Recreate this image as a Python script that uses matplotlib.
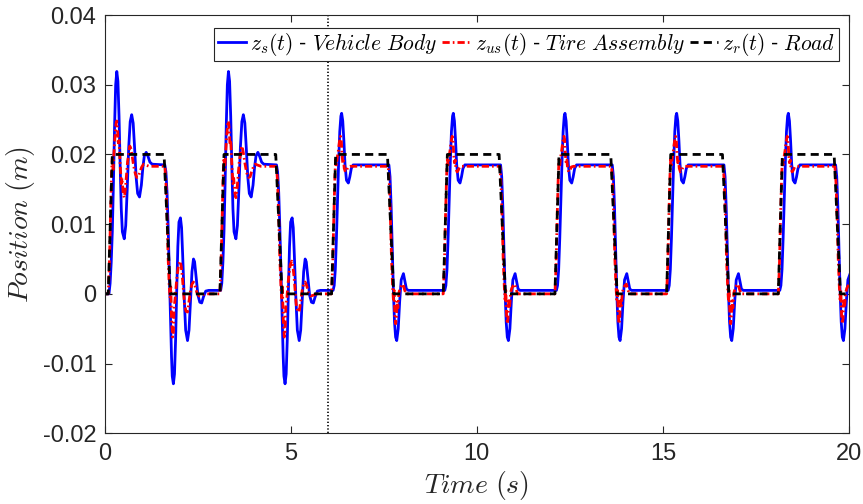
import numpy as np
import matplotlib
matplotlib.use("Agg")
import matplotlib.pyplot as plt
from matplotlib.ticker import FuncFormatter, FixedLocator

# ---------------------------------------------------------------------------
# Quarter-car response to a repeated road step (one 3 s cycle, relative time)
# ---------------------------------------------------------------------------
CYCLE_PASSIVE = [0.0, 3.0]                 # cycles before the controller is switched on
CYCLE_ACTIVE = [6.0, 9.0, 12.0, 15.0, 18.0]  # cycles with the controller active
SWITCH_TIME = 6.0
T_END = 20.0

# road profile z_r over one cycle
road_tau = [0.00, 0.10, 0.21, 1.60, 1.77, 3.00]
road_val = [0.000, 0.000, 0.020, 0.020, 0.000, 0.000]

# vehicle body z_s, passive suspension
zs_p_tau = [0.00, 0.12, 0.15, 0.18, 0.21, 0.24, 0.27, 0.30, 0.33, 0.36,
            0.39, 0.42, 0.45, 0.48, 0.53, 0.57, 0.61, 0.65, 0.69, 0.73,
            0.77, 0.81, 0.85, 0.89, 0.94, 0.99, 1.03, 1.07, 1.12, 1.17,
            1.22, 1.28, 1.62, 1.65, 1.68, 1.71, 1.74, 1.77, 1.80, 1.82,
            1.85, 1.88, 1.91, 1.94, 1.97, 2.00, 2.04, 2.07, 2.10, 2.14,
            2.18, 2.23, 2.27, 2.31, 2.35, 2.39, 2.42, 2.46, 2.51, 2.56,
            2.61, 2.66, 2.72, 2.80, 3.00]
zs_p_val = [0.0005, 0.0005, 0.0015, 0.0045, 0.0090, 0.0160, 0.0240, 0.0300, 0.0319, 0.0305,
            0.0255, 0.0185, 0.0122, 0.0089, 0.0079, 0.0098, 0.0150, 0.0210, 0.0247, 0.0257,
            0.0245, 0.0208, 0.0167, 0.0144, 0.0139, 0.0156, 0.0181, 0.0198, 0.0203, 0.0197,
            0.0189, 0.0186, 0.0185, 0.0175, 0.0145, 0.0095, 0.0035, -0.0030, -0.0090, -0.0118,
            -0.0129, -0.0115, -0.0065, 0.0005, 0.0068, 0.0103, 0.0109, 0.0095, 0.0055, -0.0005,
            -0.0052, -0.0067, -0.0052, -0.0010, 0.0032, 0.0050, 0.0046, 0.0025, -0.0002, -0.0012,
            -0.0013, -0.0004, 0.0004, 0.0005, 0.0005]

# tire assembly z_us, passive suspension
zus_p_tau = [0.00, 0.10, 0.13, 0.16, 0.19, 0.21, 0.23, 0.25, 0.28, 0.31,
             0.33, 0.35, 0.37, 0.39, 0.42, 0.45, 0.47, 0.50, 0.53, 0.56,
             0.59, 0.62, 0.65, 0.68, 0.71, 0.74, 0.77, 0.80, 0.83, 0.87,
             0.91, 0.95, 1.00, 1.05, 1.10, 1.20, 1.62, 1.65, 1.68, 1.71,
             1.74, 1.76, 1.78, 1.80, 1.83, 1.85, 1.87, 1.90, 1.93, 1.96,
             1.99, 2.03, 2.06, 2.09, 2.12, 2.15, 2.19, 2.23, 2.27, 2.31,
             2.35, 2.39, 2.43, 2.48, 2.54, 2.61, 2.70, 3.00]
zus_p_val = [0.0000, 0.0000, 0.0040, 0.0110, 0.0175, 0.0195, 0.0178, 0.0198, 0.0225, 0.0244,
             0.0248, 0.0236, 0.0214, 0.0220, 0.0186, 0.0158, 0.0166, 0.0145, 0.0138, 0.0150,
             0.0170, 0.0190, 0.0200, 0.0212, 0.0208, 0.0199, 0.0188, 0.0179, 0.0172, 0.0167,
             0.0168, 0.0175, 0.0182, 0.0186, 0.0185, 0.0183, 0.0183, 0.0160, 0.0110, 0.0050,
             0.0010, -0.0006, 0.0010, -0.0035, -0.0062, -0.0055, -0.0020, -0.0005, 0.0015, 0.0030,
             0.0042, 0.0047, 0.0040, 0.0025, 0.0005, -0.0015, -0.0025, -0.0026, -0.0010, 0.0005,
             0.0014, 0.0017, 0.0012, 0.0002, -0.0003, -0.0002, 0.0000, 0.0000]

# vehicle body z_s, controlled suspension
zs_a_tau = [0.00, 0.14, 0.17, 0.20, 0.23, 0.26, 0.29, 0.32, 0.35, 0.37,
            0.40, 0.43, 0.46, 0.50, 0.55, 0.59, 0.63, 0.68, 1.64, 1.67,
            1.70, 1.73, 1.76, 1.79, 1.82, 1.85, 1.89, 1.93, 1.97, 2.03,
            2.07, 2.11, 2.16, 3.00]
zs_a_val = [0.0005, 0.0005, 0.0012, 0.0035, 0.0080, 0.0135, 0.0190, 0.0233, 0.0255, 0.0259,
            0.0248, 0.0220, 0.0186, 0.0163, 0.0159, 0.0168, 0.0180, 0.0185, 0.0185, 0.0168,
            0.0125, 0.0065, 0.0005, -0.0040, -0.0062, -0.0067, -0.0050, -0.0010, 0.0020, 0.0029,
            0.0018, 0.0007, 0.0005, 0.0005]

# tire assembly z_us, controlled suspension
zus_a_tau = [0.00, 0.10, 0.13, 0.16, 0.19, 0.21, 0.23, 0.25, 0.28, 0.31,
             0.34, 0.36, 0.38, 0.40, 0.42, 0.44, 0.47, 0.50, 0.54, 0.60,
             1.62, 1.65, 1.68, 1.71, 1.74, 1.76, 1.78, 1.80, 1.82, 1.84,
             1.86, 1.88, 1.91, 1.94, 1.98, 2.02, 2.06, 2.10, 3.00]
zus_a_val = [0.0000, 0.0000, 0.0040, 0.0110, 0.0170, 0.0193, 0.0185, 0.0195, 0.0205, 0.0218,
             0.0226, 0.0222, 0.0200, 0.0188, 0.0192, 0.0180, 0.0175, 0.0177, 0.0182, 0.0183,
             0.0183, 0.0160, 0.0110, 0.0050, 0.0010, -0.0008, 0.0005, -0.0030, -0.0043, -0.0035,
             -0.0010, -0.0020, 0.0002, 0.0008, 0.0012, 0.0014, 0.0006, 0.0000, 0.0000]

ZS_INITIAL = 0.0   # body starts at rest on the road


def repeat_cycles(starts, tau, val):
    """Place one cycle of samples at every cycle start time."""
    t = np.concatenate([s + np.asarray(tau) for s in starts])
    v = np.concatenate([np.asarray(val, dtype=float) for _ in starts])
    return t, v


t_zr_p, zr_p = repeat_cycles(CYCLE_PASSIVE, road_tau, road_val)
t_zr_a, zr_a = repeat_cycles(CYCLE_ACTIVE, road_tau, road_val)
t_zs_p, zs_p = repeat_cycles(CYCLE_PASSIVE, zs_p_tau, zs_p_val)
t_zs_a, zs_a = repeat_cycles(CYCLE_ACTIVE, zs_a_tau, zs_a_val)
t_zu_p, zu_p = repeat_cycles(CYCLE_PASSIVE, zus_p_tau, zus_p_val)
t_zu_a, zu_a = repeat_cycles(CYCLE_ACTIVE, zus_a_tau, zus_a_val)

zs_p[:2] = ZS_INITIAL

t_zs = np.concatenate([t_zs_p, t_zs_a]); zs = np.concatenate([zs_p, zs_a])
t_zu = np.concatenate([t_zu_p, t_zu_a]); zu = np.concatenate([zu_p, zu_a])
t_zr = np.concatenate([t_zr_p, t_zr_a]); zr = np.concatenate([zr_p, zr_a])

# ---------------------------------------------------------------------------
plt.rcParams['font.family'] = ['Liberation Sans', 'DejaVu Sans']
plt.rcParams['mathtext.fontset'] = 'cm'

AX_COLOR = '#262626'

fig = plt.figure(figsize=(8.63, 5.04), dpi=100)
ax = fig.add_axes([0.1211, 0.1403, 0.8627, 0.8299])

ax.plot(t_zs, zs, color='#0000ff', lw=2.0, label=r'$z_s(t)$ - $Vehicle\ Body$')
ax.plot(t_zu, zu, color='#ff0000', lw=2.0, linestyle=(0, (2.6, 1.1, 0.6, 1.1)),
        label=r'$z_{us}(t)$ - $Tire\ Assembly$')
ax.plot(t_zr, zr, color='black', lw=2.0, linestyle=(0, (2.9, 1.9)),
        label=r'$z_r(t)$ - $Road$')
ax.axvline(SWITCH_TIME, color='black', lw=1.2, linestyle=(0, (0.8, 1.2)))

ax.set_xlim(0, T_END)
ax.set_ylim(-0.02, 0.04)
ax.xaxis.set_major_locator(FixedLocator([0, 5, 10, 15, 20]))
ax.yaxis.set_major_locator(FixedLocator([-0.02, -0.01, 0.0, 0.01, 0.02, 0.03, 0.04]))
ax.yaxis.set_major_formatter(FuncFormatter(lambda v, _: '0' if abs(v) < 1e-12 else f'{v:.2f}'))
ax.xaxis.set_major_formatter(FuncFormatter(lambda v, _: f'{v:g}'))

ax.tick_params(direction='in', length=5, width=0.8, colors=AX_COLOR,
               labelsize=17, top=True, right=True)
ax.tick_params(axis='x', pad=7)
ax.tick_params(axis='y', pad=6)
for sp in ax.spines.values():
    sp.set_color(AX_COLOR)
    sp.set_linewidth(0.8)

ax.set_xlabel(r'$Time\ (s)$', fontsize=20, color=AX_COLOR, labelpad=3)
ax.set_ylabel(r'$Position\ (m)$', fontsize=20, color=AX_COLOR, labelpad=4)

leg = ax.legend(loc='upper right', bbox_to_anchor=(0.986, 0.97), borderaxespad=0,
                ncol=3, fontsize=15.5, handlelength=1.3, handletextpad=0.2,
                columnspacing=0.25, borderpad=0.15, fancybox=False,
                edgecolor=AX_COLOR, framealpha=1.0)
leg.get_frame().set_linewidth(0.8)

fig.savefig('out.png', dpi=100)
